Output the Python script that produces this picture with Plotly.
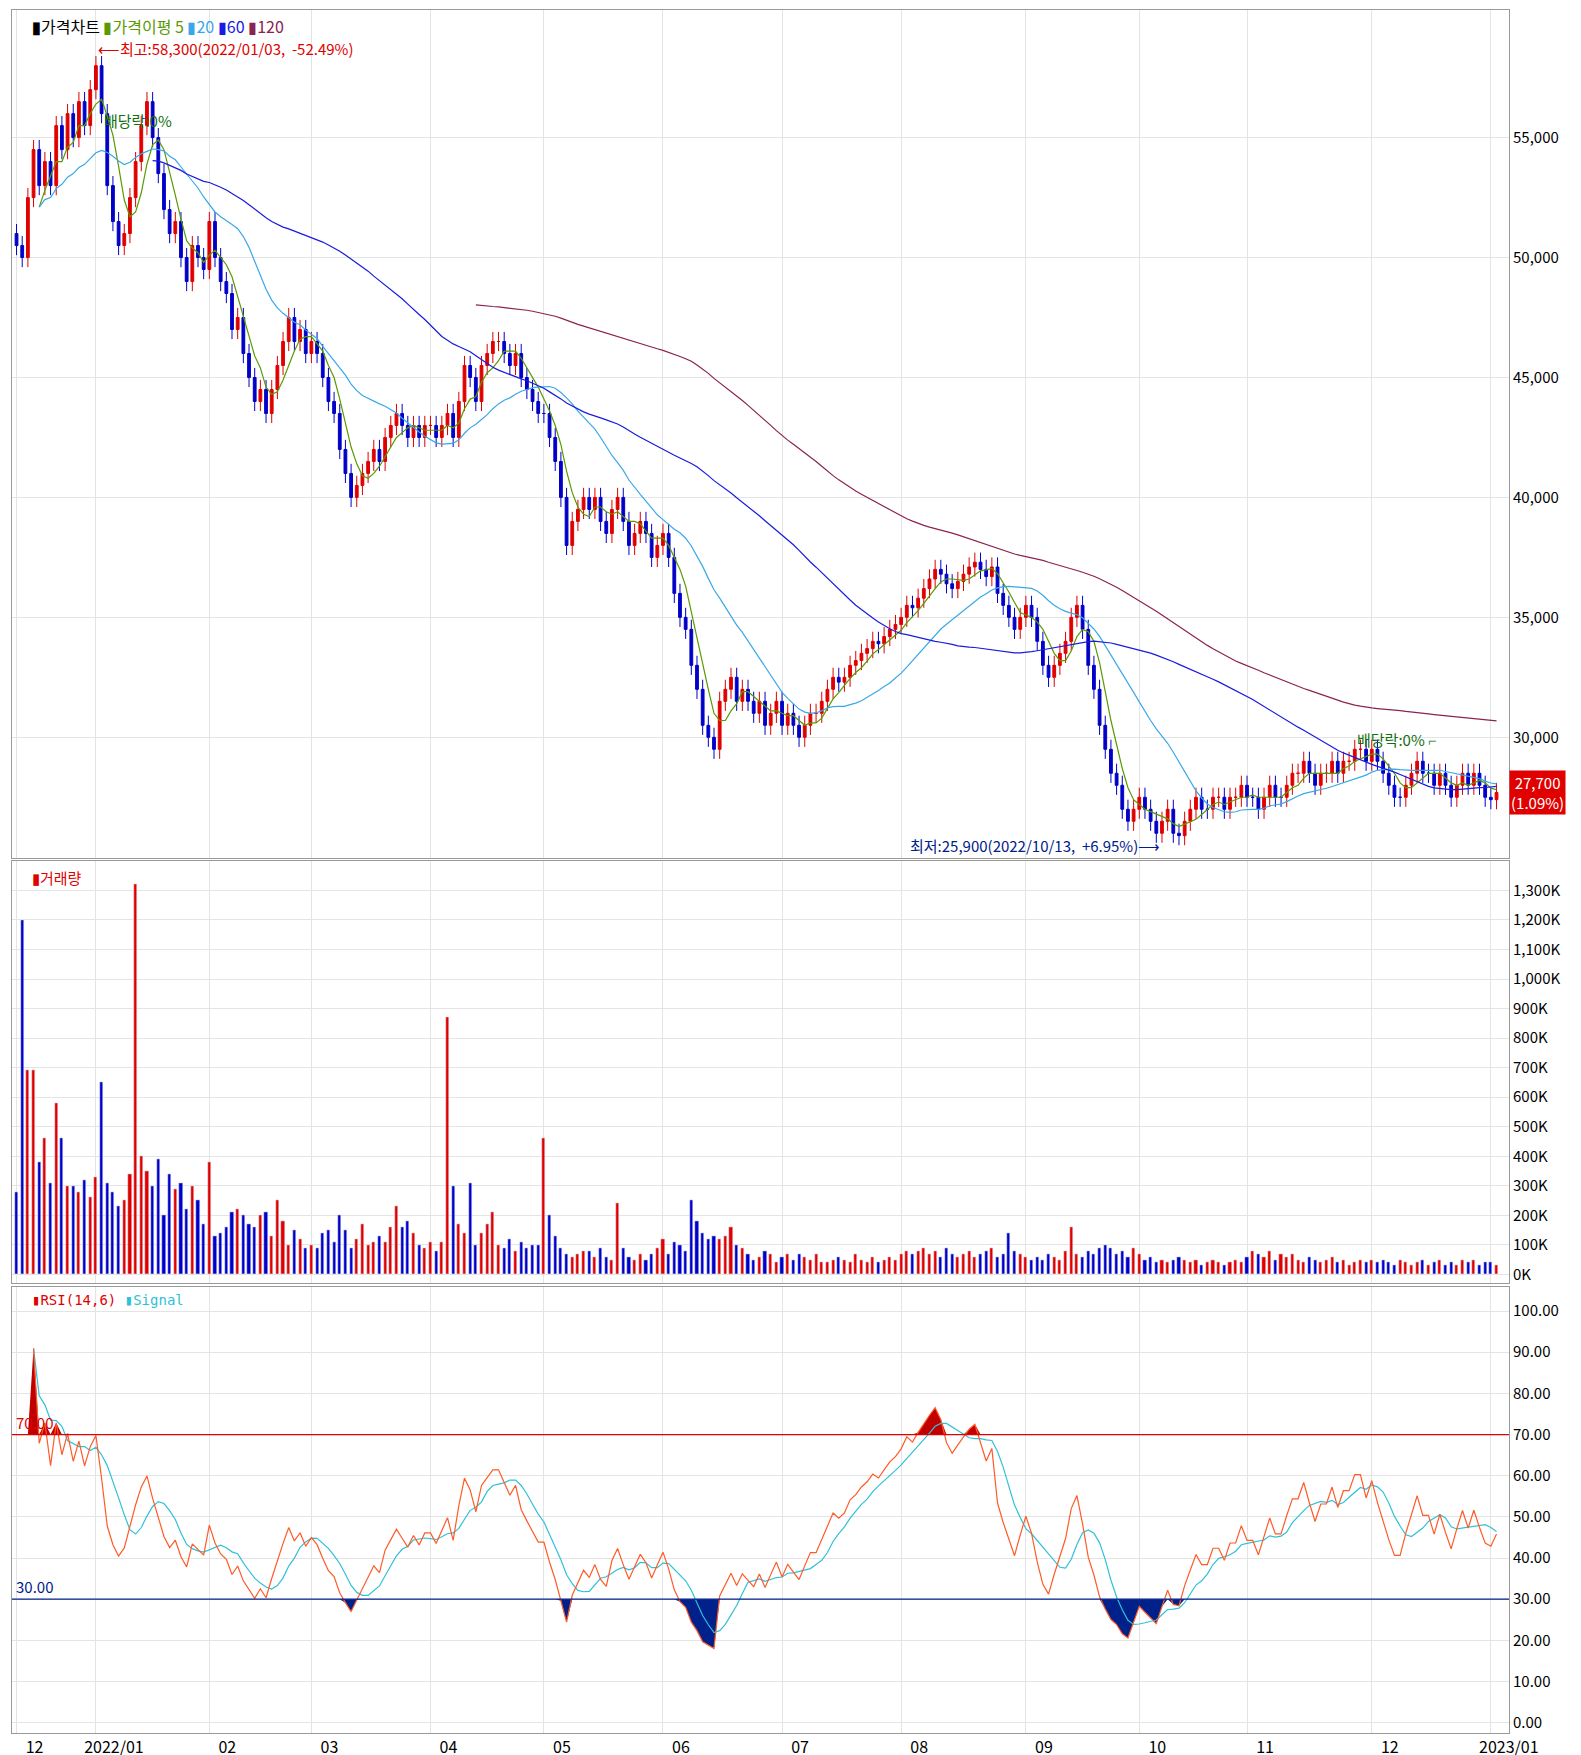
import pandas as pd
import numpy as np
import plotly.graph_objects as go

months = ["2021-12","2022-01","2022-02","2022-03","2022-04","2022-05","2022-06","2022-07",
          "2022-08","2022-09","2022-10","2022-11","2022-12","2023-01"]
close_by_month = [
 [50500,50000,52500,54500,53000,54000,53000,55500,54500,56000,55000,56500,55500,57000],
 [58000,56000,53000,51500,50500,51000,52500,54000,55500,56500,55000,53500,52000,51000,51500,50000,49000,50500,50000,49500],
 [51500,50000,49000,48500,47000,47500,46000,45000,44000,44500,43500,44500,45500,46500,47500,46500,47000,46000],
 [46500,46000,45000,44000,43500,42000,41000,40000,40500,41000,41500,42000,41500,42500,43000,43500,43000,42500,43000,42500,43000],
 [43000,42500,43000,43500,42500,44000,45500,45000,44000,45500,46000,46500,46500,46000,45500,46000,45000,44500,44000,43500],
 [43500,42500,41500,40000,38000,39000,39500,40000,39500,40000,39000,38500,39500,40000,39000,38000,38500,39000,38500,37500,38000],
 [38500,37500,36000,35000,34500,33000,32000,30500,30000,29500,31500,32000,32500,31500,32000,31500,31000,31500,30500,31000,31500],
 [30500,31000,30500,30000,30500,31000,31000,31500,32000,32500,32300,32500,33000,33200,33500,33700,34000,33900,34200,34500,34700],
 [35000,35500,35400,35800,36200,36600,37000,36800,36400,36200,36500,36800,37100,37300,37000,36700,37100,36000,35500,35000,34500,35000],
 [35500,35000,34000,33000,32500,33000,33500,34000,35000,35500,34500,33000,32000,30500,29500,28500,28000,27000,26500,27000],
 [27500,27000,26500,26000,26500,27000,26000,25900,26500,27000,27500,27000,27000,27500,27500,27000,27500,27500,28000],
 [27500,27500,27000,27500,28000,27500,27500,28000,28500,28500,29000,28500,28000,28500,28500,29000,28500,29000,29000,29500,29500,29000],
 [29500,29000,28500,28000,27500,27500,28000,28500,29000,28500,28500,28000,28500,28000,27500,28000,28500,28000,28500,28000,27500],
 [27400,27700],
]
volume_by_month = [  # thousands of shares
 [280,1200,690,690,380,460,310,580,460,300,300,280,320,260],
 [330,650,310,280,230,250,340,1320,400,350,300,390,200,340,290,310,220,300,250,170],
 [380,130,140,160,210,220,200,170,160,200,210,130,250,180,100,150,120,90],
 [100,90,140,150,110,200,150,90,120,170,100,110,130,110,160,230,160,180,140,100,90],
 [110,80,110,870,300,170,140,310,100,140,170,210,100,90,120,80,110,90,100,100],
 [460,200,130,90,70,60,70,80,80,60,90,60,50,240,90,60,50,70,50,70,90],
 [120,70,110,100,80,250,180,140,120,130,120,130,160,100,90,70,50,60,80,70,40],
 [60,70,50,70,60,50,70,40,40,50,60,50,40,70,50,40,60,40,50,60,50],
 [70,80,70,80,90,70,80,60,90,70,60,70,80,60,70,80,90,60,70,140,80,70],
 [60,50,60,50,70,60,50,80,160,70,60,80,70,90,100,90,70,80,60,90],
 [70,50,60,40,50,40,50,60,50,40,50,30,40,50,40,30,40,50,40],
 [60,80,70,60,80,50,70,60,70,50,40,60,50,40,50,60,40,50,30,40,50,40],
 [50,40,50,40,30,50,40,30,40,50,30,40,50,30,40,30,50,40,50,30,40],
 [40,30],
]
month_labels = ["12","2022/01","02","03","04","05","06","07","08","09","10","11","12","2023/01"]
price_ticks = [30000,35000,40000,45000,50000,55000]
vol_ticks = [0,100,200,300,400,500,600,700,800,900,1000,1100,1200,1300]
rsi_ticks = [0,10,20,30,40,50,60,70,80,90,100]

dates, close, vol, month_start_idx = [], [], [], []
for m, cl, vl in zip(months, close_by_month, volume_by_month):
    p = pd.Period(m)
    bd = pd.bdate_range(p.start_time, p.end_time)
    bd = bd[-len(cl):] if m == "2021-12" else bd[:len(cl)]
    month_start_idx.append(len(dates))
    dates += list(bd); close += cl; vol += vl
n = len(close)
x = np.arange(n)
close = np.array(close, float)
opn = np.concatenate([[51000], close[:-1]])
high = np.maximum(opn, close) + 400
low = np.minimum(opn, close) - 400
up = close >= opn

s = pd.Series(close)
ma5 = s.rolling(5).mean()
ma20 = s.rolling(20, min_periods=5).mean()
ma60 = s.rolling(60, min_periods=25).mean()
ma120 = s.rolling(120, min_periods=82).mean()

d = s.diff()
g = d.clip(lower=0).ewm(alpha=1/14, adjust=True).mean()
l = (-d.clip(upper=0)).ewm(alpha=1/14, adjust=True).mean()
rsi = 100 * g / (g + l)
rsi.iloc[:3] = np.nan
sig = rsi.rolling(6, min_periods=1).mean()
rsi_hi = np.where(rsi.isna(), 70, np.maximum(rsi, 70))
rsi_lo = np.where(rsi.isna(), 30, np.minimum(rsi, 30))

fig = go.Figure()
fig.add_trace(go.Candlestick(x=x, open=opn, high=high, low=low, close=close,
    increasing=dict(line=dict(color="#e00000", width=1), fillcolor="#e00000"),
    decreasing=dict(line=dict(color="#0000c8", width=1), fillcolor="#0000c8"),
    whiskerwidth=0, xaxis="x", yaxis="y", showlegend=False))
for ma, c in [(ma5, "#5a9a00"), (ma20, "#3aa8e8"), (ma60, "#1a1ae0"), (ma120, "#8b2252")]:
    fig.add_trace(go.Scatter(x=x, y=ma, mode="lines", line=dict(color=c, width=1.2),
                             xaxis="x", yaxis="y", showlegend=False))

fig.add_trace(go.Bar(x=x, y=vol, marker_color=np.where(up, "#e00000", "#0000c8"),
                     width=0.55, xaxis="x2", yaxis="y2", showlegend=False))

fig.add_trace(go.Scatter(x=x, y=[70]*n, mode="lines", line=dict(width=0), xaxis="x3", yaxis="y3", showlegend=False))
fig.add_trace(go.Scatter(x=x, y=rsi_hi, mode="lines", line=dict(width=0), fill="tonexty",
                         fillcolor="#c00000", xaxis="x3", yaxis="y3", showlegend=False))
fig.add_trace(go.Scatter(x=x, y=[30]*n, mode="lines", line=dict(width=0), xaxis="x3", yaxis="y3", showlegend=False))
fig.add_trace(go.Scatter(x=x, y=rsi_lo, mode="lines", line=dict(width=0), fill="tonexty",
                         fillcolor="#00208a", xaxis="x3", yaxis="y3", showlegend=False))
fig.add_trace(go.Scatter(x=x, y=sig, mode="lines", line=dict(color="#30c0d8", width=1.2), xaxis="x3", yaxis="y3", showlegend=False))
fig.add_trace(go.Scatter(x=x, y=rsi, mode="lines", line=dict(color="#ff5a28", width=1.2), xaxis="x3", yaxis="y3", showlegend=False))

font = dict(family="Noto Sans CJK KR", size=15, color="#000")
xr = [-0.8, n + 1.2]
xcommon = dict(range=xr, tickvals=month_start_idx, showgrid=True, gridcolor="#e4e4e4",
               zeroline=False, showline=True, linecolor="#999", mirror=True, ticks="")
yc = dict(side="right", showgrid=True, gridcolor="#e4e4e4", zeroline=False, showline=True,
          linecolor="#999", mirror=True, ticks="", tickfont=font)
fig.update_layout(
    width=1581, height=1755, paper_bgcolor="white", plot_bgcolor="white",
    margin=dict(l=4, r=80, t=2, b=30), font=font, bargap=0,
    xaxis=dict(xcommon, domain=[0, 1], anchor="y", showticklabels=False, rangeslider=dict(visible=False)),
    xaxis2=dict(xcommon, domain=[0, 1], anchor="y2", showticklabels=False),
    xaxis3=dict(xcommon, domain=[0, 1], anchor="y3", ticktext=month_labels,
                tickfont=dict(family="Noto Sans CJK KR", size=16, color="#000"), ticklabelshift=18),
    yaxis=dict(yc, domain=[0.508, 1.0], range=[24980, 60320], tickvals=price_ticks,
               ticktext=[f"{v:,}" for v in price_ticks]),
    yaxis2=dict(yc, domain=[0.261, 0.506], range=[-30, 1399], tickvals=vol_ticks,
                ticktext=["0K"] + [f"{v:,}K" for v in vol_ticks[1:]]),
    yaxis3=dict(yc, domain=[0.0, 0.259], range=[-2.5, 105.9], tickvals=rsi_ticks,
                ticktext=[f"{v:.2f}" for v in rsi_ticks]),
    shapes=[
        dict(type="line", xref="x3", yref="y3", x0=xr[0], x1=xr[1], y0=70, y1=70, line=dict(color="#e00000", width=1.3)),
        dict(type="line", xref="x3", yref="y3", x0=xr[0], x1=xr[1], y0=30, y1=30, line=dict(color="#00208a", width=1.3)),
    ],
)
ann = [
    dict(xref="paper", yref="paper", x=0.012, y=0.999, text="<b>▮</b>가격차트 <span style='color:#5a9a00'>▮가격이평 5</span> <span style='color:#3aa8e8'>▮20</span> <span style='color:#1a1ae0'>▮60</span> <span style='color:#8b2252'>▮120</span>", font=dict(family="Noto Sans CJK KR", size=16, color="#000")),
    dict(xref="paper", yref="paper", x=0.012, y=0.504, text="<span style='color:#e00000'>▮거래량</span>"),
    dict(xref="paper", yref="paper", x=0.012, y=0.257, text="<span style='color:#e00000'>▮RSI(14,6)</span> <span style='color:#30c0d8'>▮Signal</span>", font=dict(family="DejaVu Sans Mono", size=14, color="#e00000")),
    dict(xref="x", yref="y", x=month_start_idx[1], y=58700, text="⟵최고:58,300(2022/01/03,  -52.49%)", font=dict(family="Noto Sans CJK KR", size=15, color="#e00000"), xanchor="left"),
    dict(xref="x", yref="y", x=month_start_idx[10] + 4, y=25500, text="최저:25,900(2022/10/13,  +6.95%)⟶", font=dict(family="Noto Sans CJK KR", size=15, color="#00208a"), xanchor="right"),
    dict(xref="x", yref="y", x=15, y=55700, text="배당락:0%", font=dict(family="Noto Sans CJK KR", size=15, color="#107010"), xanchor="left"),
    dict(xref="x", yref="y", x=236, y=29900, text="배당락:0% ⌐", font=dict(family="Noto Sans CJK KR", size=15, color="#107010"), xanchor="left"),
    dict(xref="paper", yref="y", x=1.0, y=27700, xanchor="left", text="27,700<br>(1.09%)", bgcolor="#e00000", font=dict(family="Noto Sans CJK KR", size=15, color="white")),
    dict(xref="x3", yref="y3", x=-0.5, y=70, text="70.00", xanchor="left", yanchor="bottom", font=dict(size=15, color="#e00000")),
    dict(xref="x3", yref="y3", x=-0.5, y=30, text="30.00", xanchor="left", yanchor="bottom", font=dict(size=15, color="#00208a")),
]
for a in ann:
    a.setdefault("showarrow", False)
    a.setdefault("xanchor", "left")
    a.setdefault("yanchor", "top" if a.get("yref") == "paper" else "middle")
fig.update_layout(annotations=ann)
fig.write_html("out.html")
